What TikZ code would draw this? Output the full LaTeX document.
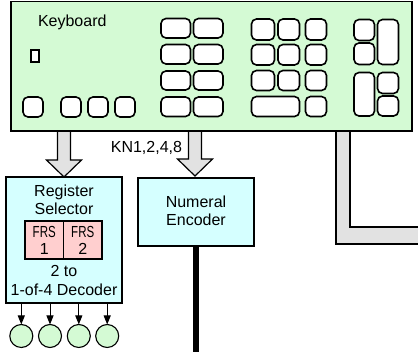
\documentclass[tikz,border=0pt]{standalone}
\usepackage{fontspec}
\setmainfont{Liberation Sans}
\usetikzlibrary{calc,arrows.meta,backgrounds}
\definecolor{kbgreen}{HTML}{D4FAD4}
\definecolor{boxcyan}{HTML}{D5FFFF}
\definecolor{regpink}{HTML}{FFCFCF}
\definecolor{busgray}{HTML}{E2E2E2}
\tikzset{
  panel/.style={draw, line width=1.3pt, anchor=north west},
  key/.style={draw, fill=white, line width=1.6pt, rounded corners=5pt},
  lamp/.style={draw, circle, fill=kbgreen, line width=1.1pt, minimum size=23pt},
  wire/.style={line width=1pt, -{Triangle[length=9pt,width=7pt]}},
  busline/.style={line width=1.2pt},
}
% hollow block arrow from a point on a source edge (#1) down to its tip (#2)
\newcommand\fatarrow[2]{%
  \fill[busgray] ($(#1)+(-6.5,0)$) -- ($(#2)+(-6.5,-17)$) -- ($(#2)+(-17.5,-17)$)
    -- (#2) -- ($(#2)+(17.5,-17)$) -- ($(#2)+(6.5,-17)$) -- ($(#1)+(6.5,0)$) -- cycle;
  \draw[busline, line join=miter] ($(#1)+(-6.5,0)$) -- ($(#2)+(-6.5,-17)$) -- ($(#2)+(-17.5,-17)$)
    -- (#2) -- ($(#2)+(17.5,-17)$) -- ($(#2)+(6.5,-17)$) -- ($(#1)+(6.5,0)$);
}
\begin{document}
\begin{tikzpicture}[x=1pt, y=-1pt,
  every node/.style={inner sep=0pt, outer sep=0pt},
  font=\fontsize{16}{18}\selectfont]
\useasboundingbox (0,0) rectangle (418,352);

% keyboard panel
\node[panel, fill=kbgreen, minimum width=401pt, minimum height=129.5pt] (kb) at (11,1.5) {};
\node[anchor=base west] (kblabel) at (38,27) {Keyboard};
\draw[line width=1.1pt, fill=white] (31,50) rectangle (39,62);

% keys
\foreach \a/\b/\c/\d in {
  23/97/43/117, 61/97/81/117, 88/97/108/117, 115/97/135/117,
  161/18.5/190.5/38, 193.5/18.5/223/38,
  161/44.5/190.5/64, 193.5/44.5/223/64,
  161/71/190.5/90, 193.5/71/223/90,
  161/97/190.5/116.5, 193.5/97/223/116.5,
  251.5/19/274.5/40, 278/19/299.5/40, 305.5/19/326.5/40,
  251.5/44.5/274.5/65, 278/44.5/299.5/65, 305.5/44.5/326.5/65,
  251.5/70.5/274.5/90.5, 278/70.5/299.5/90.5, 305.5/70.5/326.5/90.5,
  251.5/96.5/299.5/116.5, 305.5/96.5/326.5/116.5,
  354/19.5/374.5/40.5, 354/43/374.5/64.5, 377.5/19.5/398.5/64.5,
  354/72.5/374.5/116, 377.5/72.5/398.5/93.5, 377.5/96/398.5/116}
  \draw[key] (\a,\b) rectangle (\c,\d);

% register selector
\node[panel, fill=boxcyan, minimum width=116pt, minimum height=126pt] (reg) at (6,177) {};
\node[anchor=base] at (64,196.5) {Register};
\node[anchor=base] at (64,215) {Selector};
\node[panel, fill=regpink, minimum width=38.5pt, minimum height=38pt] (frs1) at (25,221) {};
\node[panel, fill=regpink, minimum width=38.5pt, minimum height=38pt] (frs2) at (63.5,221) {};
\node[anchor=base] at ($(frs1.north)+(0,16.3)$) {\scalebox{0.72}[1]{FRS}};
\node[anchor=base] at ($(frs1.north)+(0,34)$) {1};
\node[anchor=base] at ($(frs2.north)+(0,16.3)$) {\scalebox{0.72}[1]{FRS}};
\node[anchor=base] at ($(frs2.north)+(0,34)$) {2};
\node[anchor=base] at (64,276.5) {2 to};
\node[anchor=base] at (64,295.5) {1-of-4 Decoder};

% decoder outputs
\foreach \i/\x in {1/21.3, 2/50, 3/78.8, 4/107.2} {
  \node[lamp] (lamp\i) at (\x,336) {};
  \draw[wire] (reg.south -| lamp\i) -- (lamp\i.north);
}

% numeral encoder
\node[panel, fill=boxcyan, minimum width=116pt, minimum height=68pt] (enc) at (138,178) {};
\node[anchor=base] at (196,207.3) {Numeral};
\node[anchor=base] at (196,225.7) {Encoder};
\node[anchor=base east] (kn) at (182,152.5) {KN1,2,4,8};
\coordinate (encout) at (196,356);
\draw[line width=6pt] (enc.south) -- (enc.south |- encout);

% keyboard outputs drawn beneath the panel edge
\begin{scope}[on background layer]
  \coordinate (a1) at (reg.north |- kb.south);
  \fatarrow{a1}{reg.north}
  \coordinate (t2) at (195,176);
  \coordinate (s2) at (t2 |- kb.south);
  \fatarrow{s2}{t2}
  % bus leaving to the right
  \coordinate (bt) at (343,131);
  \coordinate (be) at (422,235.5);
  \fill[busgray] ($(bt)+(-7,-2)$) -- ($(bt |- be)+(-7,8.5)$) -- ($(be)+(0,8.5)$)
    -- ($(be)+(0,-8.5)$) -- ($(bt |- be)+(7,-8.5)$) -- ($(bt)+(7,-2)$) -- cycle;
  \draw[busline] ($(bt)+(-7,-2)$) -- ($(bt |- be)+(-7,8.5)$) -- ($(be)+(0,8.5)$);
  \draw[busline] ($(bt)+(7,-2)$) -- ($(bt |- be)+(7,-8.5)$) -- ($(be)+(0,-8.5)$);
\end{scope}
\end{tikzpicture}
\end{document}
